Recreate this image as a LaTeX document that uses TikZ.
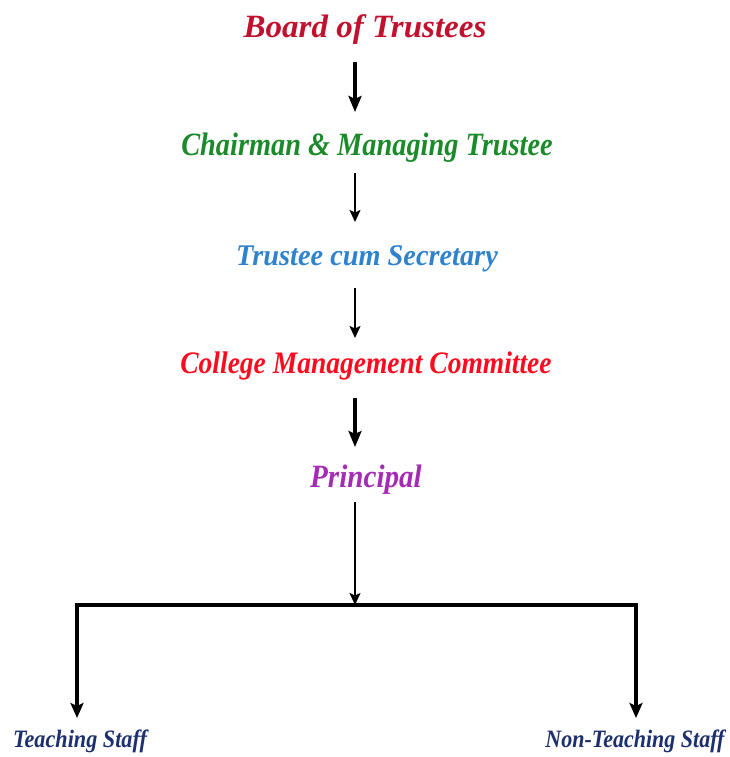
\documentclass[tikz,border=0pt]{standalone}
\usepackage{fontspec}
\setmainfont{Liberation Serif}
\usepackage{graphicx}
\usetikzlibrary{arrows.meta,calc}
\definecolor{boardred}{HTML}{C0122E}
\definecolor{chairgreen}{HTML}{1A8A2A}
\definecolor{trustblue}{HTML}{2F82CC}
\definecolor{collred}{HTML}{FF0A1E}
\definecolor{prinpurple}{HTML}{A42CB4}
\definecolor{staffnavy}{HTML}{1C2F6E}
\tikzset{
  lbl/.style={inner sep=0pt, anchor=base},
  thickarr/.style={line width=3.4pt, -{Stealth[length=16pt,width=13pt,inset=3pt]}},
  thinarr/.style={line width=1.8pt, -{Stealth[length=12pt,width=11pt,inset=2.5pt]}},
  treeline/.style={line width=3.2pt},
  botarr/.style={line width=3.2pt, -{Stealth[length=15pt,width=13pt,inset=3pt]}},
}
\newcommand{\stre}[2]{\scalebox{#1}[1.25]{#2}}
\begin{document}
\begin{tikzpicture}[x=1pt,y=-1pt]
\useasboundingbox (0,0) rectangle (730,757);
\coordinate (axis) at (355,0);
\node[lbl, text=boardred, font=\fontsize{26}{30}\selectfont\bfseries\itshape] (board) at (365,38) {\stre{1.27}{Board of Trustees}};
\node[lbl, text=chairgreen, font=\fontsize{26}{30}\selectfont\bfseries\itshape] (chair) at (367,155) {\stre{1.09}{Chairman \& Managing Trustee}};
\node[lbl, text=trustblue, font=\fontsize{24}{28}\selectfont\bfseries\itshape] (trust) at (367,265) {\stre{1.18}{Trustee cum Secretary}};
\node[lbl, text=collred, font=\fontsize{25}{28}\selectfont\bfseries\itshape] (coll) at (366,373) {\stre{1.10}{College Management Committee}};
\node[lbl, text=prinpurple, font=\fontsize{26}{30}\selectfont\bfseries\itshape] (prin) at (366,487) {\stre{1.12}{Principal}};
\node[lbl, text=staffnavy, font=\fontsize{20}{24}\selectfont\bfseries\itshape] (teach) at (80,747) {\stre{1.11}{Teaching Staff}};
\node[lbl, text=staffnavy, font=\fontsize{20}{24}\selectfont\bfseries\itshape] (nonteach) at (635,747) {\stre{1.10}{Non-Teaching Staff}};
\coordinate (split) at (355,605);
\coordinate (lcol) at (77,605);
\coordinate (rcol) at (636,605);
\draw[thickarr] ([yshift=-24pt]board.base -| axis) -- ([yshift=43pt]chair.base -| axis);
\draw[thinarr] ([yshift=-18pt]chair.base -| axis) -- ([yshift=43pt]trust.base -| axis);
\draw[thinarr] ([yshift=-23pt]trust.base -| axis) -- ([yshift=35pt]coll.base -| axis);
\draw[thickarr] ([yshift=-25pt]coll.base -| axis) -- ([yshift=40pt]prin.base -| axis);
\draw[thinarr] ([yshift=-15pt]prin.base -| axis) -- (split);
\draw[treeline] ([xshift=-1.6pt]lcol) -- ([xshift=1.6pt]rcol);
\draw[botarr] (lcol) -- ([yshift=29pt]teach.base -| lcol);
\draw[botarr] (rcol) -- ([yshift=29pt]nonteach.base -| rcol);
\end{tikzpicture}
\end{document}
